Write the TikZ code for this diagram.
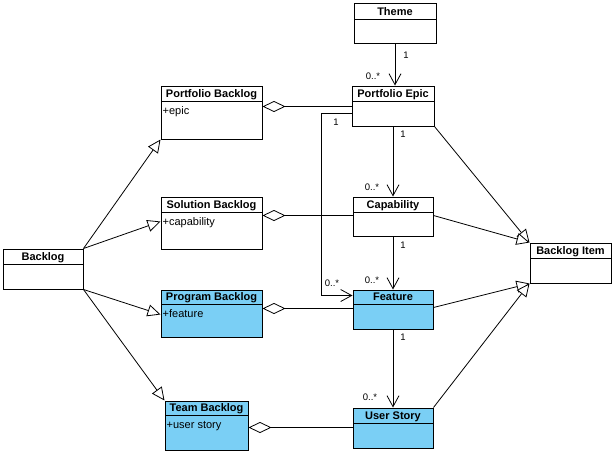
\documentclass[tikz,border=0pt]{standalone}
\usepackage{fontspec}
\setmainfont{Liberation Sans}
\usetikzlibrary{arrows.meta,fit,calc}
\definecolor{umlblue}{RGB}{122,207,245}
\tikzset{
  classbox/.style={draw, line width=1pt, inner sep=0pt},
  ctitle/.style={font=\fontsize{11}{12}\selectfont\bfseries, anchor=base, inner sep=0pt},
  cattr/.style={font=\fontsize{11}{12}\selectfont, anchor=base west, inner sep=0pt},
  mult/.style={font=\fontsize{9.5}{10}\selectfont, inner sep=0pt},
  conn/.style={line width=0.8pt},
  nav/.style={conn, -{Straight Barb[length=11pt,width=12pt]}},
  gen/.style={conn, -{Triangle[length=13pt,width=12pt,fill=white]}},
  agg/.style={conn, {Diamond[length=23pt,width=11pt,fill=white]}-},
}
% fill, name, x1, y1, x2, y2, header y, title, attribute
\newcommand\umlclass[9][white]{%
  \node[classbox, fill=#1, fit={(#3,#4) (#5,#6)}] (#2) {};
  \draw[line width=1pt] (#3,#7) -- (#5,#7);
  \node[ctitle] (#2-t) at ({(#3+#5)/2},{#7-3.5}) {#8};
  \node[cattr] (#2-a) at ({#3+1.5},{#7+13.5}) {#9};
}
\begin{document}
\begin{tikzpicture}[x=1pt,y=-1pt]
\useasboundingbox[fill=white] (0,0) rectangle (614,455);

\umlclass{theme}{354}{3}{436}{43}{19}{Theme}{}
\umlclass{pe}{352}{86}{434}{126}{101}{Portfolio Epic}{}
\umlclass{cap}{353}{197}{433}{236}{212}{Capability}{}
\umlclass[umlblue]{feat}{353}{290}{433}{329}{304}{Feature}{}
\umlclass[umlblue]{us}{353}{408}{433}{448}{423}{User Story}{}
\umlclass{bi}{530}{243}{611}{283}{258}{Backlog Item}{}
\umlclass{pb}{161}{86}{262}{139}{101}{Portfolio Backlog}{+epic}
\umlclass{sb}{161}{197}{262}{249}{212}{Solution Backlog}{+capability}
\umlclass[umlblue]{prb}{161}{290}{262}{337}{304}{Program Backlog}{+feature}
\umlclass[umlblue]{tb}{165}{401}{248}{450}{415}{Team Backlog}{+user story}
\umlclass{bl}{3}{249}{83}{289}{264}{Backlog}{}

% navigable associations
\draw[nav] (theme.south) -- (theme.south |- pe.north);
\draw[nav] (pe.south) -- (pe.south |- cap.north);
\draw[nav] (cap.south) -- (cap.south |- feat.north);
\draw[nav] (feat.south) -- (feat.south |- us.north);
\draw[nav] ([yshift=-28pt]pe.north west) -- ++(-30,0) |- ([yshift=-6pt]feat.north west);

% multiplicities
\node[mult] (m1) at (406,55) {1};
\node[mult] (m2) at (373,76) {0..*};
\node[mult] (m3) at (403,134) {1};
\node[mult] (m4) at (372,187) {0..*};
\node[mult] (m5) at (403,245) {1};
\node[mult] (m6) at (372,280) {0..*};
\node[mult] (m7) at (336,122) {1};
\node[mult] (m8) at (332,283) {0..*};
\node[mult] (m9) at (403,337) {1};
\node[mult] (m10) at (370,397) {0..*};

% aggregations
\coordinate (pbA) at ([yshift=-21pt]pb.north east);
\coordinate (sbA) at ([yshift=-19pt]sb.north east);
\coordinate (prbA) at ([yshift=-19pt]prb.north east);
\coordinate (tbA) at ([yshift=-27pt]tb.north east);
\draw[agg] (pbA) -- (pbA -| pe.west);
\draw[agg] (sbA) -- (sbA -| cap.west);
\draw[agg] (prbA) -- (prbA -| feat.west);
\draw[agg] (tbA) -- (tbA -| us.west);

% generalizations
\draw[gen] (bl.north east) -- (pb.south west);
\draw[gen] (bl.north east) -- ([yshift=-25pt]sb.north west);
\draw[gen] (bl.south east) -- ([yshift=-25pt]prb.north west);
\draw[gen] (bl.south east) -- (tb.north west);
\draw[gen] (pe.south east) -- (bi.north west);
\draw[gen] ([yshift=-19pt]cap.north east) -- (bi.north west);
\draw[gen] ([yshift=-18pt]feat.north east) -- (bi.south west);
\draw[gen] (us.north east) -- (bi.south west);
\end{tikzpicture}
\end{document}
